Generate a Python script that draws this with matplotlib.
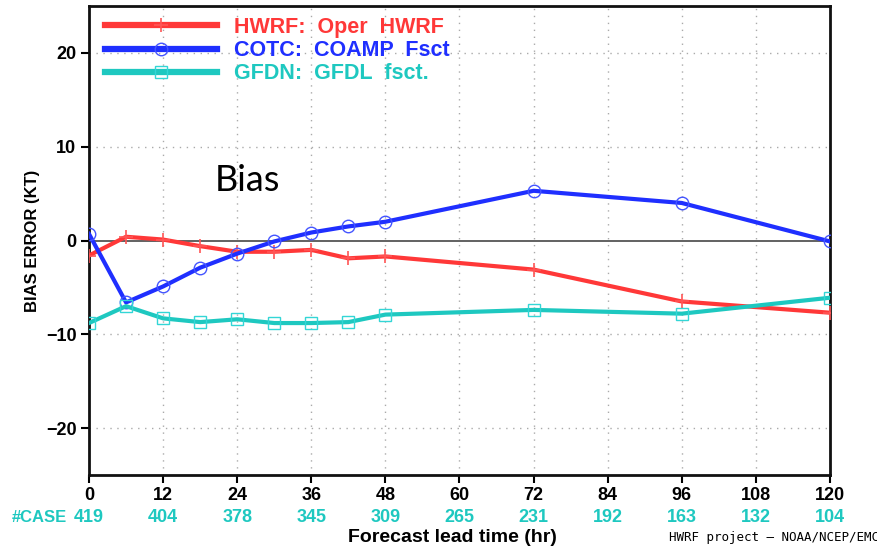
import matplotlib
matplotlib.use("Agg")
import matplotlib.pyplot as plt
import matplotlib.transforms as mtransforms

lead_hr = [0, 6, 12, 18, 24, 30, 36, 42, 48, 72, 96, 120]
hwrf = [-1.6, 0.4, 0.1, -0.6, -1.2, -1.2, -1.0, -1.9, -1.7, -3.1, -6.5, -7.7]
cotc = [0.7, -6.6, -4.9, -2.9, -1.4, -0.1, 0.85, 1.5, 2.0, 5.3, 4.0, -0.1]
gfdn = [-8.8, -7.0, -8.3, -8.7, -8.4, -8.8, -8.8, -8.7, -7.9, -7.4, -7.8, -6.1]

xticks = [0, 12, 24, 36, 48, 60, 72, 84, 96, 108, 120]
case_counts = ["419", "404", "378", "345", "309", "265", "231", "192", "163", "132", "104"]
yticks = [-20, -10, 0, 10, 20]
labels = ["HWRF:  Oper  HWRF", "COTC:  COAMP  Fsct", "GFDN:  GFDL  fsct."]

RED = "#ff3838"
BLUE = "#1f2fff"
CYAN = "#1ec8c0"
FONT = "Liberation Sans"

fig = plt.figure(figsize=(8.78, 5.46), dpi=100)
ax = fig.add_axes([89/878, 1-475/546, (830-89)/878, (475-6)/546])

ax.set_xlim(0, 120)
ax.set_ylim(-25, 25)

for x in xticks[1:-1]:
    ax.axvline(x, color="#aaaaaa", lw=1.0, ls=(0, (1, 4)), zorder=1)
for y in [-20, -10, 10, 20]:
    ax.axhline(y, color="#aaaaaa", lw=1.0, ls=(0, (1, 4)), zorder=1)
ax.axhline(0, color="#555555", lw=1.3, zorder=2)

ax.plot(lead_hr, hwrf, color=RED, lw=3, marker="+", ms=10, mew=1.2,
        mec="#ff5555", label=labels[0], zorder=4)
ax.plot(lead_hr, cotc, color=BLUE, lw=3, marker="o", ms=9, mew=1.0,
        mfc="none", mec="#4455ff", label=labels[1], zorder=4)
ax.plot(lead_hr, gfdn, color=CYAN, lw=3, marker="s", ms=9, mew=1.0,
        mfc="none", mec="#33d6d6", label=labels[2], zorder=4)

for side in ["left", "right", "top", "bottom"]:
    ax.spines[side].set_linewidth(2)
    ax.spines[side].set_color("#111111")

ax.set_xticks(xticks)
ax.set_xticklabels([str(v) for v in xticks], fontweight="bold", fontsize=13, family=FONT)
ax.set_yticks(yticks)
ax.set_yticklabels(["\u221220", "\u221210", "0", "10", "20"], fontweight="bold",
                   fontsize=13, family=FONT)
ax.tick_params(direction="out", length=6, width=1.5, pad=3)

ax.set_ylabel("BIAS ERROR (KT)", fontweight="bold", fontsize=12, family=FONT)
ax.yaxis.set_label_coords(-(89-40)/741, 0.5)

leg = ax.legend(loc="upper left", frameon=False, handlelength=5.2, handletextpad=0.8,
                labelspacing=0.1, prop={"family": FONT, "weight": "bold", "size": 15.5},
                borderaxespad=0.0, bbox_to_anchor=(0.01, 0.995))
for txt, c in zip(leg.get_texts(), [RED, BLUE, CYAN]):
    txt.set_color(c)
for h in leg.legend_handles:
    h.set_linewidth(4.5)

ax.text(20.4, 6.4, "Bias", fontsize=26, family="Lato", va="center", ha="left")

trans = mtransforms.blended_transform_factory(ax.transData, ax.transAxes)
row_y = -(517-475)/469
for x, c in zip(xticks, case_counts):
    ax.text(x, row_y, c, transform=trans, ha="center", va="center",
            color=CYAN, fontsize=13, fontweight="bold", family=FONT)
ax.text(-3.6, row_y, "#CASE", transform=trans, ha="right", va="center",
        color=CYAN, fontsize=12, fontweight="bold", family=FONT)

fig.text(452/878, 1-537/546, "Forecast lead time (hr)", ha="center", va="center",
         fontsize=14, fontweight="bold", family=FONT)
fig.text(879/878, 1-537/546, "HWRF project \u2013 NOAA/NCEP/EMC", ha="right", va="center",
         fontsize=9, family="DejaVu Sans Mono")

fig.savefig("out.png", dpi=100)
